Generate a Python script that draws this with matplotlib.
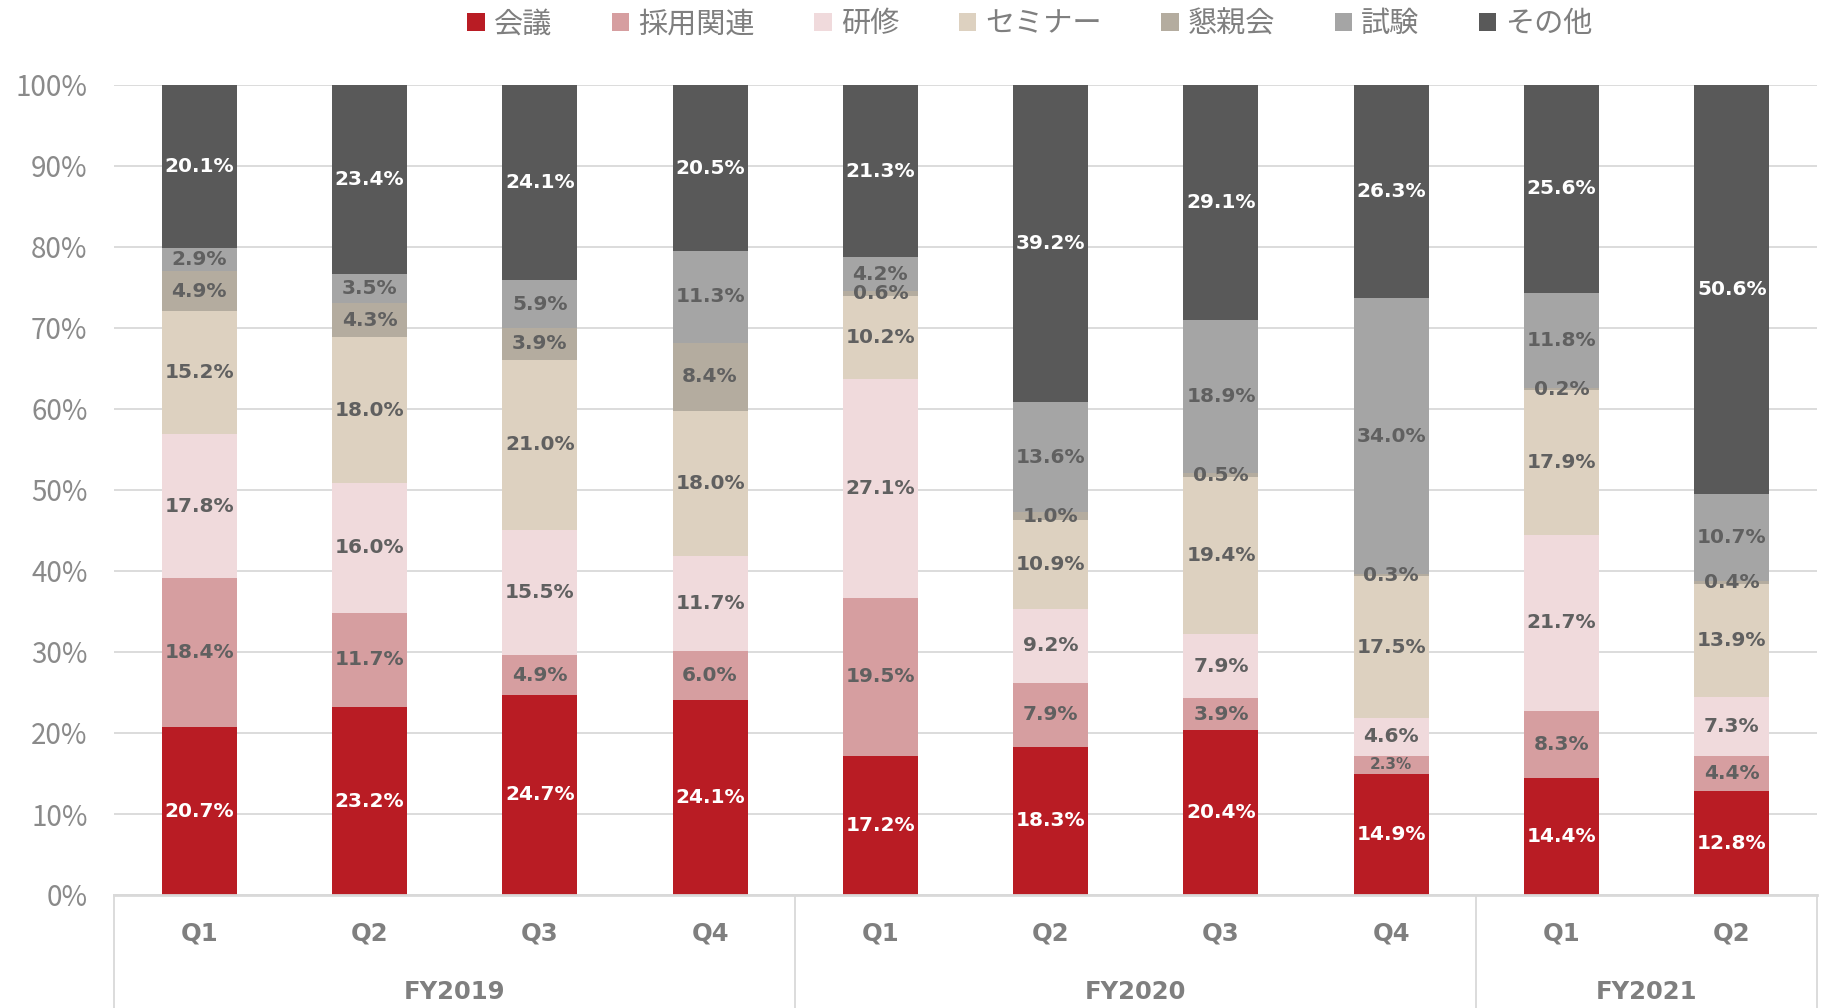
import matplotlib
matplotlib.use("Agg")
import matplotlib.pyplot as plt
import matplotlib.transforms as mtransforms
import numpy as np

plt.rcParams['font.family'] = ['Noto Sans CJK JP', 'DejaVu Sans']

quarters = ["Q1", "Q2", "Q3", "Q4", "Q1", "Q2", "Q3", "Q4", "Q1", "Q2"]
years = ["FY2019", "FY2020", "FY2021"]
year_sizes = [4, 4, 2]

series_names = ["会議", "採用関連", "研修", "セミナー", "懇親会", "試験", "その他"]
kaigi    = [20.7, 23.2, 24.7, 24.1, 17.2, 18.3, 20.4, 14.9, 14.4, 12.8]
saiyo    = [18.4, 11.7, 4.9, 6.0, 19.5, 7.9, 3.9, 2.3, 8.3, 4.4]
kenshu   = [17.8, 16.0, 15.5, 11.7, 27.1, 9.2, 7.9, 4.6, 21.7, 7.3]
seminar  = [15.2, 18.0, 21.0, 18.0, 10.2, 10.9, 19.4, 17.5, 17.9, 13.9]
konshin  = [4.9, 4.3, 3.9, 8.4, 0.6, 1.0, 0.5, 0.3, 0.2, 0.4]
shiken   = [2.9, 3.5, 5.9, 11.3, 4.2, 13.6, 18.9, 34.0, 11.8, 10.7]
sonota   = [20.1, 23.4, 24.1, 20.5, 21.3, 39.2, 29.1, 26.3, 25.6, 50.6]

series = [kaigi, saiyo, kenshu, seminar, konshin, shiken, sonota]
colors = ["#B91C24", "#D69EA0", "#F0DADC", "#DDD1C0", "#B4AC9F", "#A5A5A5", "#595959"]
label_colors = ["white", "#606060", "#606060", "#606060", "#606060", "#606060", "white"]

fig = plt.figure(figsize=(18.23, 10.08), dpi=100)
ax = fig.add_axes([114/1823, 1 - 895/1008, (1817-114)/1823, 810/1008])

x = np.arange(len(quarters))
data = np.array(series, dtype=float)
totals = data.sum(axis=0)
shares = data / totals * 100

bottom = np.zeros(len(quarters))
for i, name in enumerate(series_names):
    ax.bar(x, shares[i], 0.44, bottom=bottom, color=colors[i], label=name, zorder=3)
    for j in range(len(quarters)):
        val = data[i][j]
        fs = 14.5
        if 2.0 < val < 2.5:
            fs = 11
        ax.text(x[j], bottom[j] + shares[i][j] / 2, f"{val:.1f}%", ha="center", va="center",
                color=label_colors[i], fontsize=fs, fontweight="bold", family="DejaVu Sans", zorder=5)
    bottom += shares[i]

ax.set_xlim(-0.5, len(quarters) - 0.5)
ax.set_ylim(0, 100)
ax.set_yticks(np.arange(0, 101, 10))
ax.set_yticklabels([f"{v}%" for v in range(0, 101, 10)], color="#8A8A8A", fontsize=20)
ax.tick_params(axis="y", length=0, pad=19)
ax.set_xticks([])
ax.grid(axis="y", color="#D9D9D9", lw=1.3, zorder=0)
for s in ax.spines.values():
    s.set_visible(False)
ax.axhline(0, color="#D9D9D9", lw=2, zorder=4, clip_on=False)

trans = mtransforms.blended_transform_factory(ax.transData, ax.transAxes)
ybot = -(1008 - 895) / 810
bounds = [-0.5]
acc = -0.5
for n in year_sizes:
    acc += n
    bounds.append(acc)
for b in bounds:
    ax.plot([b, b], [0, ybot], transform=trans, color="#D9D9D9", lw=1.3, clip_on=False)

for j, q in enumerate(quarters):
    ax.text(x[j], -0.048, q, transform=trans, ha="center", va="center",
            color="#7F7F7F", fontsize=17.5, fontweight="bold", family="DejaVu Sans")
for k, yname in enumerate(years):
    c = (bounds[k] + bounds[k + 1]) / 2
    ax.text(c, -0.12, yname, transform=trans, ha="center", va="center",
            color="#7F7F7F", fontsize=17.5, fontweight="bold", family="DejaVu Sans")

leg = fig.legend(loc="center", bbox_to_anchor=(0.565, 0.976), ncol=7, frameon=False,
                 fontsize=21, handlelength=0.6, handleheight=0.6, handletextpad=0.3,
                 columnspacing=2.05, labelcolor="#7F7F7F")

fig.savefig("out.png", dpi=100)
